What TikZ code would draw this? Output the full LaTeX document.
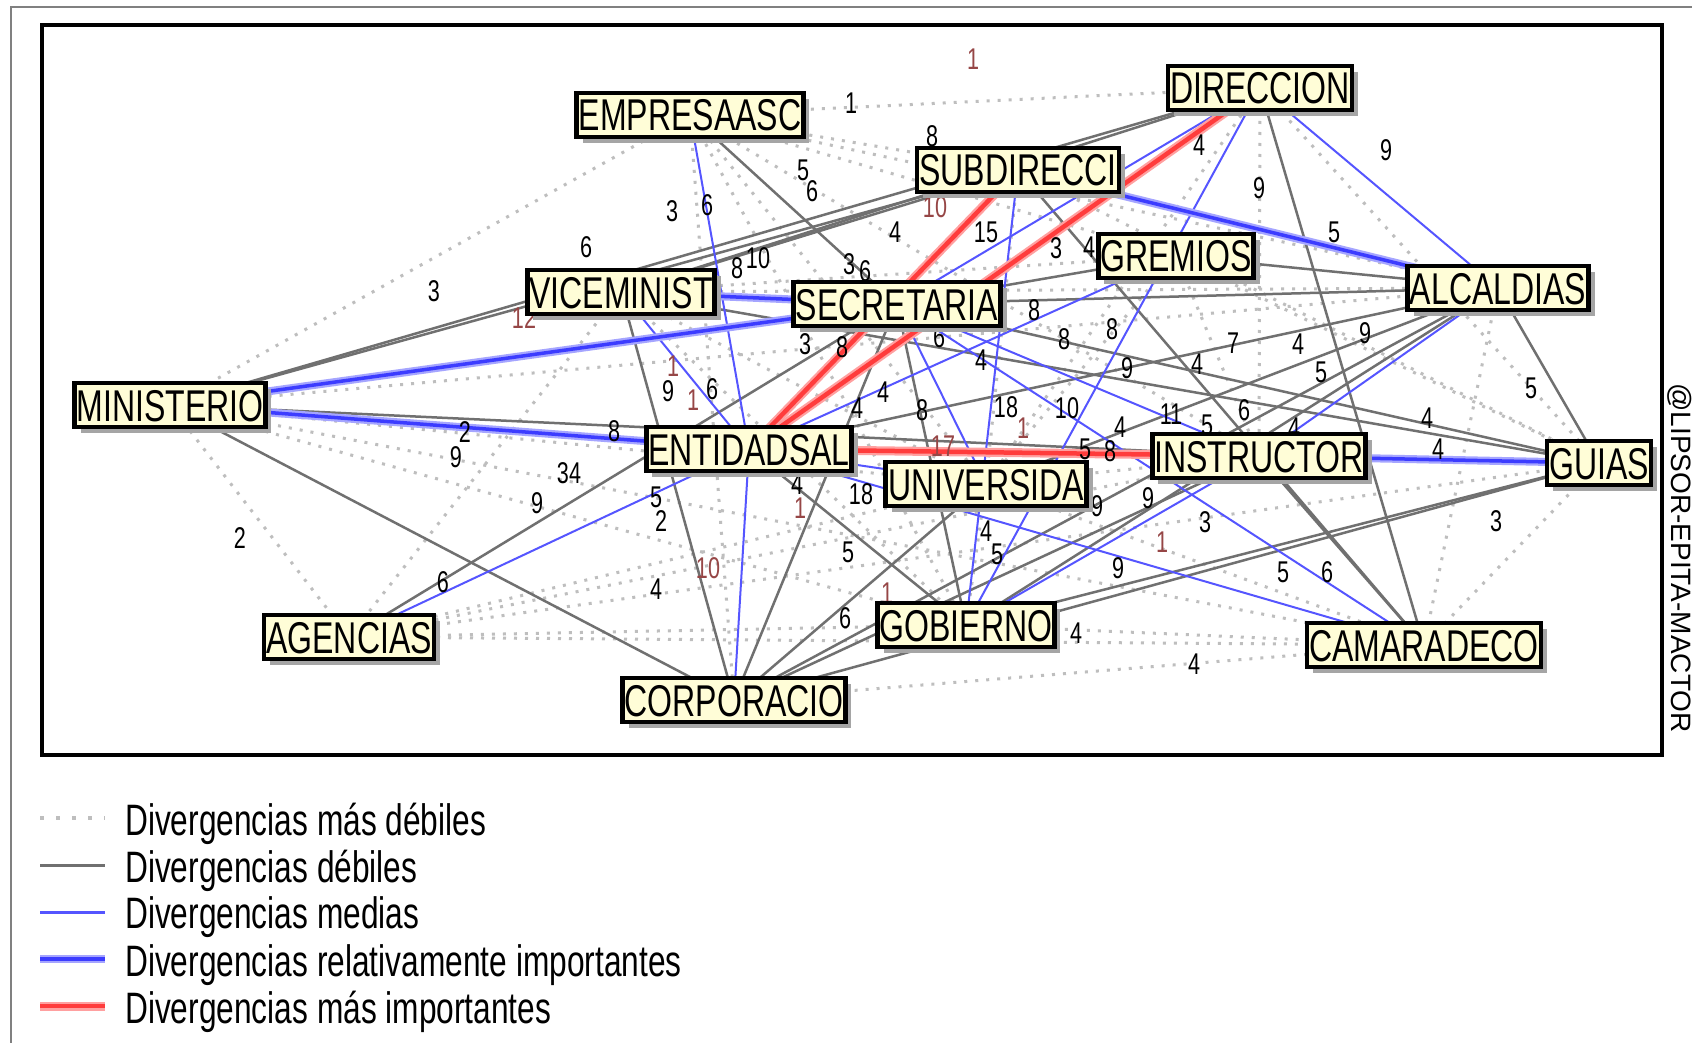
\documentclass[tikz,border=0pt]{standalone}
\usepackage{fontspec}
\setmainfont{Liberation Sans}
\newfontfamily\condfont[FakeStretch=0.72]{Liberation Sans}
\usetikzlibrary{shadows}
\pgfdeclarelayer{bglayer}
\pgfdeclarelayer{edgelayer}
\pgfdeclarelayer{labellayer}
\pgfsetlayers{bglayer,edgelayer,labellayer,main}
\definecolor{boxfill}{RGB}{255,253,215}
\definecolor{shadowgray}{RGB}{165,165,165}
\definecolor{dotgray}{RGB}{190,190,190}
\definecolor{linegray}{RGB}{112,112,112}
\definecolor{midblue}{RGB}{85,85,255}
\definecolor{relcore}{RGB}{60,60,255}
\definecolor{relhalo}{RGB}{165,165,255}
\definecolor{redcore}{RGB}{255,60,60}
\definecolor{redhalo}{RGB}{255,160,160}
\definecolor{lblred}{RGB}{150,70,70}
\tikzset{
  actor/.style={draw=black, line width=4.5pt, fill=boxfill,
    font=\condfont\fontsize{44.5}{44.5}\selectfont, text height=32pt, text depth=0pt,
    inner xsep=2pt, inner ysep=0pt, minimum height=44pt,
    drop shadow={shadow xshift=6pt, shadow yshift=-6pt, opacity=1, fill=shadowgray}},
  weakdot/.style={draw=dotgray, line width=3pt, dash pattern=on 3pt off 8pt},
  weakline/.style={draw=linegray, line width=2.5pt},
  midline/.style={draw=midblue, line width=2pt},
  relline/.style={draw=relhalo, line width=8pt, postaction={draw=relcore, line width=3.5pt}},
  topline/.style={draw=redhalo, line width=9pt, postaction={draw=redcore, line width=4.5pt}},
  lbl/.style={font=\condfont\fontsize{30}{30}\selectfont, inner sep=0pt, text=black},
  lblr/.style={lbl, text=lblred},
  legtext/.style={font=\condfont\fontsize{44}{44}\selectfont, inner sep=0pt, anchor=base west}
}
\begin{document}
\begin{tikzpicture}[x=1pt,y=-1pt]
\begin{pgfonlayer}{bglayer}
\path[fill=white] (0,0) rectangle (1692,1043);
\end{pgfonlayer}
\path[use as bounding box] (0,0) rectangle (1692,1043);
\draw[draw=gray, line width=1.5pt] (11,1043) -- (11,7) -- (1692,7);
\draw[draw=black, line width=3.5pt] (42,25) rectangle (1662,755);

% actors
\foreach \n/\x/\y/\w/\t in {
  emp/690/115/224/EMPRESAASC, dir/1260/88/184/DIRECCION, sub/1018/170/201/SUBDIRECCI,
  gre/1176/256/155/GREMIOS, alc/1498/288/181/ALCALDIAS, vic/621/292/187/VICEMINIST,
  sec/897/304/207/SECRETARIA, min/170/405/190/MINISTERIO, ent/749/449/203/ENTIDADSAL,
  uni/986/484/201/UNIVERSIDA, ins/1259/456/212/INSTRUCTOR, gui/1599/463/104/GUIAS,
  age/349/637/168/AGENCIAS, gob/966/625/174/GOBIERNO, cam/1424/645/232/CAMARADECO,
  cor/734/700/220/CORPORACIO}
  \node[actor, minimum width=\w pt] (\n) at (\x,\y) {\t};

\node[font=\fontsize{28}{28}\selectfont, rotate=-90, inner sep=0pt] (stamp) at (1680,558) {@LIPSOR-EPITA-MACTOR};

\begin{pgfonlayer}{edgelayer}
\foreach \a/\b in {emp/dir, emp/sub, min/emp, min/age, age/gob, gob/cam, cor/cam, gui/cam,
  alc/cam, dir/gui, emp/gre, emp/uni, emp/cor, min/uni, min/gob, min/cam, min/alc,
  age/uni, age/ins, age/cam, age/gui, age/vic, vic/alc, vic/gre, dir/ins, sub/gui,
  uni/ins, uni/gob, gre/gui, gre/ins, uni/cam, vic/gob, vic/uni, emp/ins, ent/gui,
  emp/alc, sub/uni, dir/uni, gre/uni, emp/gob}
  \draw[weakdot] (\a.center) -- (\b.center);
\foreach \a/\b in {min/dir, min/sub, vic/sub, vic/dir, emp/sec, vic/cor, min/cor, age/sec,
  ent/gob, cor/sec, cor/uni, cor/alc, gob/gui, cor/gui, ins/cam, dir/cam, alc/gui,
  vic/gui, sec/gui, gre/alc, sec/alc, sec/gre, sub/cam, min/ins, ent/alc, uni/alc,
  gob/sec, cor/ins, gob/alc}
  \draw[weakline] (\a.center) -- (\b.center);
\foreach \a/\b in {dir/sec, dir/gob, dir/alc, sub/gob, emp/ent, vic/ent, ent/cor, age/ent,
  ins/gob, sec/cam, ent/cam, alc/ins, ent/gre, sec/uni, sec/ins, ent/uni}
  \draw[midline] (\a.center) -- (\b.center);
\foreach \a/\b in {min/ent, min/sec, vic/sec, ins/gui, sub/alc}
  \draw[relline] (\a.center) -- (\b.center);
\foreach \a/\b in {ent/sub, ent/dir, ent/ins}
  \draw[topline] (\a.center) -- (\b.center);
\end{pgfonlayer}

\begin{pgfonlayer}{labellayer}
\foreach \x/\y/\t [count=\i] in {
  851/103/1, 932/136/8, 1199/145/4, 1386/150/9, 1259/188/9, 1334/232/5, 803/170/5,
  812/191/6, 672/211/3, 707/205/6, 586/247/6, 434/291/3, 895/232/4, 986/232/15,
  1056/248/3, 1089/247/4, 737/268/8, 758/258/10, 849/264/3, 865/271/6, 805/344/3,
  842/347/8, 939/337/6, 981/360/4, 1034/310/8, 1064/339/8, 1112/329/8, 1233/343/7,
  1298/344/4, 1365/333/9, 1127/368/9, 1197/364/4, 1321/372/5, 1531/388/5, 668/391/9,
  712/389/6, 614/431/8, 465/432/2, 456/457/9, 569/473/34, 537/503/9, 443/582/6,
  240/538/2, 656/497/5, 661/521/2, 656/589/4, 797/484/4, 861/494/18, 848/552/5,
  845/618/6, 986/531/4, 997/554/5, 1097/506/9, 1148/498/9, 1205/522/3, 1118/568/9,
  1283/572/5, 1327/572/6, 1496/521/3, 1076/633/4, 1194/664/4, 1427/418/4, 1438/449/4,
  1294/428/4, 1244/410/6, 1207/425/5, 1171/414/11, 1085/449/5, 1110/451/8, 1067/408/10,
  1006/407/18, 922/410/8, 883/392/4, 857/408/4, 1120/427/4}
  \node[lbl] (lab\i) at (\x,\y) {\t};
\foreach \x/\y/\t [count=\i] in {
  973/59/1, 935/207/10, 524/318/12, 673/366/1, 693/400/1, 708/568/10, 800/508/1,
  887/593/1, 1162/542/1, 1023/428/1, 943/446/17}
  \node[lblr] (labr\i) at (\x,\y) {\t};
\end{pgfonlayer}

% legend
\draw[draw=dotgray, line width=4pt, dash pattern=on 4pt off 12pt] (40,818) -- (105,818);
\draw[weakline, line width=3pt] (40,865) -- (105,865);
\draw[midline, line width=3pt] (40,912) -- (105,912);
\draw[relline] (40,959) -- (105,959);
\draw[topline] (40,1006) -- (105,1006);
\node[legtext] (leg1) at (125,835) {Divergencias más débiles};
\node[legtext] (leg2) at (125,882) {Divergencias débiles};
\node[legtext] (leg3) at (125,928) {Divergencias medias};
\node[legtext] (leg4) at (125,976) {Divergencias relativamente importantes};
\node[legtext] (leg5) at (125,1023) {Divergencias más importantes};
\end{tikzpicture}
\end{document}
